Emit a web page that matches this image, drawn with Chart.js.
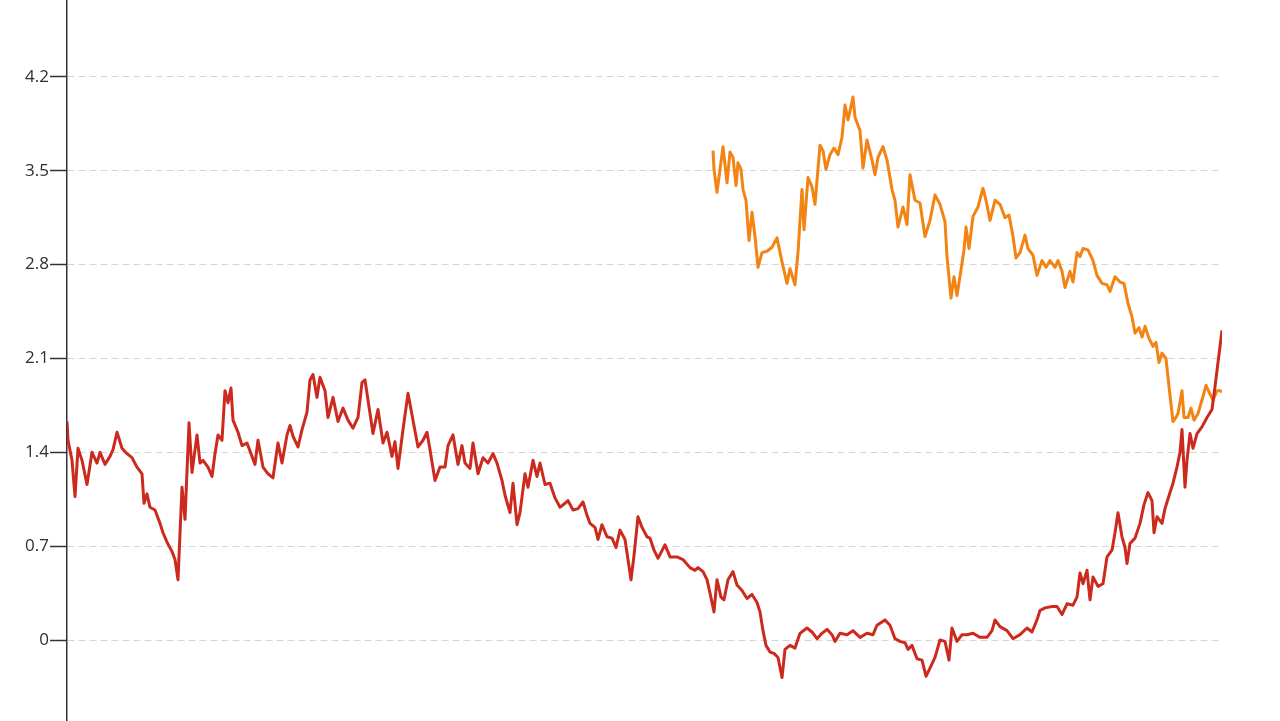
<!DOCTYPE html>
<html>
<head>
<meta charset="utf-8">
<script src="https://cdn.jsdelivr.net/npm/chart.js@4"></script>
<style>
  html, body { margin: 0; padding: 0; background: #ffffff; }
  #wrap { width: 1280px; height: 721px; position: relative; }
</style>
</head>
<body>
<div id="wrap"><canvas id="c"></canvas></div>
<script>
// ---- data ----
const yTicks = [0, 0.7, 1.4, 2.1, 2.8, 3.5, 4.2];
const yTickLabels = ['0', '0.7', '1.4', '2.1', '2.8', '3.5', '4.2'];

const redDays = [0,1,5,8,11,15,20,25,30,33,38,43,46,50,55,60,65,70,75,77,80,83,88,93,96,100,105,108,111,115,118,122,125,130,133,136,141,145,148,151,155,158,161,164,166,171,175,180,185,188,191,196,201,206,211,215,220,223,226,231,235,240,243,246,250,253,258,261,266,271,276,281,286,291,295,298,301,306,311,316,320,325,328,331,336,341,346,351,356,360,363,368,373,378,381,386,391,395,398,403,406,411,416,421,426,430,435,438,443,446,450,453,458,461,466,470,473,478,483,488,493,498,501,506,511,516,520,523,528,531,535,540,545,549,553,558,561,564,567,571,575,580,583,587,591,598,603,610,616,623,628,631,636,640,643,647,650,654,657,661,666,670,675,680,685,690,693,696,699,703,707,711,715,718,723,728,733,740,745,750,755,760,765,768,773,780,786,793,800,806,810,818,823,828,833,838,841,845,850,855,859,863,868,873,878,882,885,890,895,900,906,913,920,925,928,933,940,946,953,960,965,970,973,978,985,990,995,1000,1006,1010,1013,1016,1020,1023,1026,1031,1036,1040,1045,1048,1051,1055,1058,1060,1063,1068,1073,1077,1081,1085,1087,1090,1095,1098,1103,1106,1110,1113,1115,1118,1120,1123,1126,1130,1135,1140,1145,1148,1151,1155];
const redValues = [1.63,1.49,1.34,1.07,1.43,1.34,1.16,1.40,1.32,1.40,1.31,1.37,1.42,1.55,1.43,1.39,1.36,1.29,1.24,1.02,1.09,0.99,0.97,0.87,0.80,0.73,0.66,0.60,0.45,1.14,0.90,1.62,1.25,1.53,1.32,1.34,1.29,1.22,1.39,1.53,1.49,1.86,1.77,1.88,1.64,1.55,1.45,1.47,1.37,1.31,1.49,1.29,1.24,1.21,1.47,1.32,1.53,1.60,1.52,1.44,1.57,1.70,1.94,1.98,1.81,1.96,1.86,1.66,1.81,1.63,1.73,1.64,1.58,1.66,1.92,1.94,1.79,1.54,1.72,1.47,1.55,1.37,1.48,1.28,1.57,1.84,1.64,1.44,1.49,1.55,1.42,1.19,1.29,1.29,1.45,1.53,1.31,1.45,1.32,1.28,1.47,1.24,1.36,1.32,1.39,1.32,1.19,1.08,0.95,1.17,0.86,0.95,1.24,1.14,1.34,1.22,1.32,1.16,1.17,1.06,0.99,1.02,1.04,0.97,0.98,1.03,0.93,0.87,0.84,0.75,0.86,0.77,0.76,0.69,0.82,0.75,0.60,0.45,0.63,0.92,0.84,0.77,0.76,0.67,0.61,0.71,0.62,0.62,0.60,0.54,0.52,0.54,0.51,0.45,0.35,0.21,0.45,0.32,0.30,0.45,0.51,0.41,0.37,0.31,0.34,0.28,0.21,0.07,-0.04,-0.09,-0.10,-0.13,-0.28,-0.07,-0.04,-0.06,0.05,0.09,0.06,0.01,0.05,0.08,0.04,-0.01,0.05,0.04,0.07,0.02,0.05,0.04,0.11,0.15,0.11,0.01,-0.01,-0.02,-0.07,-0.04,-0.14,-0.15,-0.27,-0.21,-0.13,0.00,-0.01,-0.15,0.09,-0.01,0.04,0.04,0.05,0.02,0.02,0.07,0.15,0.10,0.07,0.01,0.04,0.09,0.06,0.15,0.22,0.24,0.25,0.25,0.19,0.27,0.26,0.32,0.50,0.42,0.52,0.30,0.47,0.40,0.42,0.62,0.67,0.80,0.95,0.77,0.69,0.57,0.72,0.76,0.87,1.01,1.10,1.04,0.80,0.92,0.87,0.98,1.10,1.17,1.29,1.40,1.57,1.14,1.34,1.54,1.43,1.54,1.59,1.66,1.72,1.89,2.07,2.31];

const orangeDays = [646,647,650,653,656,660,663,666,669,671,674,676,679,682,685,688,691,695,700,705,710,715,720,723,728,731,735,737,741,745,748,753,756,759,763,767,771,775,778,781,786,788,793,796,800,805,808,811,816,820,825,828,831,836,840,843,848,853,858,863,868,873,878,880,884,887,890,894,897,899,902,906,911,916,919,923,928,933,938,942,946,949,953,958,961,966,970,975,979,983,988,991,995,998,1003,1006,1010,1013,1016,1021,1026,1030,1035,1040,1043,1048,1053,1057,1061,1065,1068,1072,1075,1078,1082,1086,1089,1092,1095,1099,1102,1106,1109,1111,1115,1117,1121,1124,1127,1131,1135,1139,1142,1146,1150,1153,1155];
const orangeValues = [3.65,3.51,3.34,3.51,3.68,3.41,3.64,3.60,3.39,3.56,3.51,3.36,3.28,2.98,3.19,3.01,2.78,2.89,2.90,2.93,3.00,2.82,2.66,2.77,2.65,2.89,3.36,3.06,3.45,3.38,3.25,3.69,3.65,3.51,3.62,3.67,3.62,3.75,3.99,3.88,4.05,3.90,3.80,3.52,3.73,3.58,3.47,3.60,3.68,3.58,3.36,3.28,3.08,3.23,3.10,3.47,3.28,3.26,3.01,3.13,3.32,3.25,3.12,2.86,2.55,2.71,2.57,2.76,2.91,3.08,2.92,3.16,3.23,3.37,3.28,3.13,3.28,3.25,3.15,3.17,3.01,2.85,2.89,3.02,2.92,2.87,2.72,2.83,2.78,2.83,2.78,2.83,2.75,2.63,2.75,2.67,2.89,2.86,2.92,2.91,2.83,2.72,2.66,2.65,2.60,2.71,2.67,2.66,2.51,2.41,2.29,2.33,2.26,2.34,2.25,2.19,2.22,2.07,2.14,2.10,1.89,1.63,1.66,1.69,1.86,1.66,1.66,1.73,1.64,1.69,1.79,1.90,1.85,1.79,1.86,1.86,1.85];

const xMin = 0, xMax = 1155;
const yMin = -0.604, yMax = 4.774;

// ---- chart ----
const toPoints = (xs, ys) => xs.map((x, i) => ({ x: x, y: ys[i] }));

new Chart(document.getElementById('c'), {
  type: 'line',
  data: {
    datasets: [
      {
        label: 'Red',
        data: toPoints(redDays, redValues),
        borderColor: '#cc2a1e',
        borderWidth: 3,
        borderJoinStyle: 'round',
        pointRadius: 0,
        tension: 0,
        fill: false
      },
      {
        label: 'Orange',
        data: toPoints(orangeDays, orangeValues),
        borderColor: '#f38413',
        borderWidth: 3,
        borderJoinStyle: 'round',
        pointRadius: 0,
        tension: 0,
        fill: false
      }
    ]
  },
  options: {
    responsive: true,
    maintainAspectRatio: false,
    animation: false,
    layout: { padding: { left: 0, right: 58, top: 0, bottom: 0 } },
    plugins: {
      legend: { display: false },
      tooltip: { enabled: false },
      title: { display: false }
    },
    scales: {
      x: {
        type: 'linear',
        min: xMin,
        max: xMax,
        display: false
      },
      y: {
        type: 'linear',
        min: yMin,
        max: yMax,
        afterBuildTicks: (scale) => { scale.ticks = yTicks.map(v => ({ value: v })); },
        afterFit: (scale) => { scale.width = 67; scale.paddingTop = 0; scale.paddingBottom = 0; },
        ticks: {
          callback: (value) => {
            const idx = yTicks.findIndex(t => Math.abs(t - value) < 1e-6);
            return idx >= 0 ? yTickLabels[idx] : '';
          },
          color: '#2e2e2e',
          font: { family: '"Open Sans", "Noto Sans", sans-serif', size: 17 },
          padding: 1
        },
        grid: {
          color: '#d6d6d6',
          lineWidth: 1,
          drawTicks: true,
          tickLength: 17,
          tickColor: '#333333',
          tickWidth: 1.5
        },
        border: {
          display: true,
          color: '#333333',
          width: 1.5,
          dash: [7, 4]
        }
      }
    }
  }
});
</script>
</body>
</html>
